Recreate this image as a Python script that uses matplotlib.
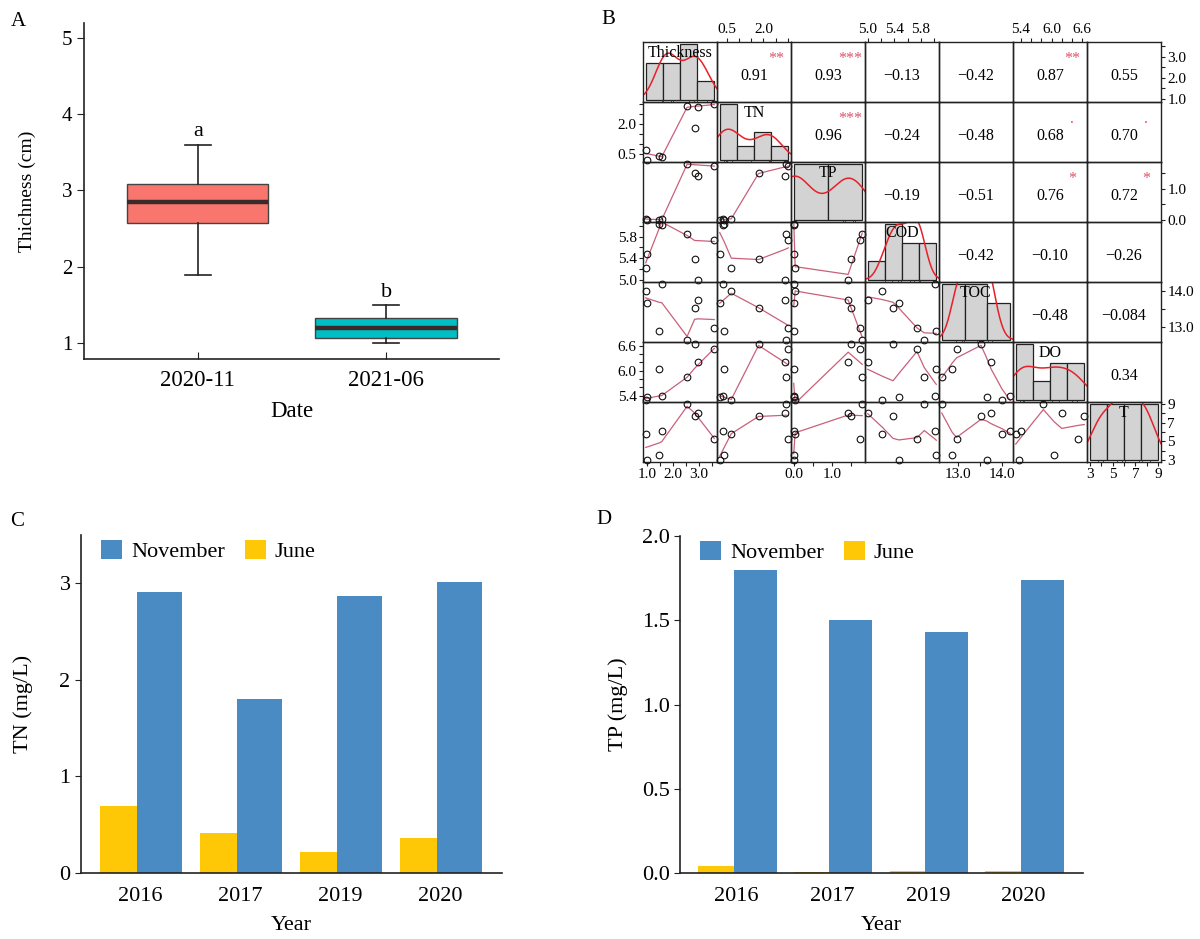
import numpy as np
import matplotlib
matplotlib.use("Agg")
import matplotlib.pyplot as plt

plt.rcParams["font.family"] = ["Liberation Serif", "DejaVu Serif"]
plt.rcParams["axes.unicode_minus"] = True

# ---- panel A: thickness box statistics
DATES = ["2020-11", "2021-06"]
BOX_WHISLO = [1.90, 1.00]
BOX_Q1 = [2.58, 1.07]
BOX_MED = [2.85, 1.20]
BOX_Q3 = [3.08, 1.33]
BOX_WHISHI = [3.60, 1.50]
BOX_LETTERS = ["a", "b"]

# ---- panels C and D
YEARS = ["2016", "2017", "2019", "2020"]
TN_NOV = [2.91, 1.80, 2.87, 3.01]
TN_JUN = [0.69, 0.41, 0.22, 0.36]
TP_NOV = [1.80, 1.50, 1.43, 1.74]
TP_JUN = [0.04, 0.003, 0.01, 0.012]

# ---- panel B: samples Nov 2016/2017/2019/2020 then Jun 2016/2017/2019/2020
VAR_NAMES = ["Thickness", "TN", "TP", "COD", "TOC", "DO", "T"]
THICKNESS = [2.55, 2.84, 2.98, 3.60, 0.95, 1.48, 1.00, 1.57]
TN = TN_NOV + TN_JUN
TP = TP_NOV + TP_JUN
COD = [5.85, 5.38, 5.00, 5.74, 5.22, 6.03, 5.47, 6.01]
TOC = [12.63, 13.53, 13.76, 12.97, 14.01, 12.87, 13.66, 14.20]
DO = [5.84, 6.64, 6.20, 6.52, 5.30, 6.05, 5.37, 5.40]
TEMP = [9.0, 7.7, 8.1, 5.2, 5.8, 3.5, 3.0, 6.1]
PAIRS_DATA = [THICKNESS, TN, TP, COD, TOC, DO, TEMP]

HIST_BREAKS = [
    [0, 1, 2, 3, 4],
    [0, 1, 2, 3, 4],
    [0, 1, 2],
    [4.5, 5.0, 5.5, 6.0, 6.5],
    [12, 13, 14, 15],
    [5.2, 5.6, 6.0, 6.4, 6.8],
    [2, 4, 6, 8, 10],
]

CORR_VALUES = [
    ["0.91", "0.93", "\u22120.13", "\u22120.42", "0.87", "0.55"],
    ["0.96", "\u22120.24", "\u22120.48", "0.68", "0.70"],
    ["\u22120.19", "\u22120.51", "0.76", "0.72"],
    ["\u22120.42", "\u22120.10", "\u22120.26"],
    ["\u22120.48", "\u22120.084"],
    ["0.34"],
]
CORR_STARS = [
    ["**", "***", "", "", "**", ""],
    ["***", "", "", ".", "."],
    ["", "", "*", "*"],
    ["", "", ""],
    ["", ""],
    [""],
]

AXIS_TICKS = [
    [1.0, 1.5, 2.0, 2.5, 3.0, 3.5],
    [0.5, 1.0, 1.5, 2.0, 2.5, 3.0],
    [0.0, 0.5, 1.0, 1.5],
    [5.0, 5.2, 5.4, 5.6, 5.8, 6.0],
    [13.0, 13.5, 14.0],
    [5.4, 5.6, 5.8, 6.0, 6.2, 6.4, 6.6],
    [3, 4, 5, 6, 7, 8, 9],
]
AXIS_LABELS = [
    ["1.0", "", "2.0", "", "3.0", ""],
    ["0.5", "", "", "2.0", "", ""],
    ["0.0", "", "1.0", ""],
    ["5.0", "", "5.4", "", "5.8", ""],
    ["13.0", "", "14.0"],
    ["5.4", "", "", "6.0", "", "", "6.6"],
    ["3", "", "5", "", "7", "", "9"],
]

FIG_W, FIG_H = 1200, 939
BOX_COLORS = ["#f8766d", "#00bfc4"]
NOV_COLOR = "#4a8bc4"
JUN_COLOR = "#ffc807"
STAR_COLOR = "#df536b"
SMOOTH_COLOR = "#c9607a"
SPINE = "#222222"


def px_rect(left, top, right, bottom):
    return [left / FIG_W, 1 - bottom / FIG_H, (right - left) / FIG_W, (bottom - top) / FIG_H]


def padded(lo, hi, frac=0.04):
    span = hi - lo
    return lo - frac * span, hi + frac * span


def hist_counts(values, breaks):
    idx = np.searchsorted(breaks, values, side="left") - 1
    idx = np.clip(idx, 0, len(breaks) - 2)
    return np.bincount(idx, minlength=len(breaks) - 1)


def bandwidth(values):
    v = np.asarray(values, float)
    q75, q25 = np.percentile(v, [75, 25])
    lo = min(np.std(v, ddof=1), (q75 - q25) / 1.34)
    return 0.9 * lo * len(v) ** -0.2


def kde_curve(values):
    v = np.asarray(values, float)
    bw = bandwidth(v)
    grid = np.linspace(v.min() - 3 * bw, v.max() + 3 * bw, 512)
    dens = np.exp(-0.5 * ((grid[:, None] - v[None, :]) / bw) ** 2).sum(axis=1)
    return grid, dens / (len(v) * bw * np.sqrt(2 * np.pi))


def lowess(x, y, f=2 / 3, iters=3):
    order = np.argsort(x, kind="stable")
    xs = np.asarray(x, float)[order]
    ys = np.asarray(y, float)[order]
    n = len(xs)
    ns = max(min(int(f * n + 1e-7), n), 2)
    xrange_ = xs[-1] - xs[0]
    robust = np.ones(n)
    fit = np.zeros(n)
    for it in range(iters + 1):
        for i in range(n):
            d = np.abs(xs - xs[i])
            h = np.sort(d)[ns - 1]
            w = np.zeros(n)
            if h > 0:
                r = d / h
                w = np.where(r <= 0.001, 1.0, np.where(r <= 0.999, (1 - r ** 3) ** 3, 0.0))
            else:
                w[d == 0] = 1.0
            w = w * robust
            if w.sum() <= 0:
                fit[i] = ys[i]
                continue
            w = w / w.sum()
            if h > 0:
                a = np.sum(w * xs)
                c = np.sum(w * (xs - a) ** 2)
                if np.sqrt(c) > 0.001 * xrange_:
                    b = (xs[i] - a) / c
                    w = w * (b * (xs - a) + 1)
            fit[i] = np.sum(w * ys)
        if it == iters:
            break
        res = np.abs(ys - fit)
        srt = np.sort(res)
        cmad = 3 * (srt[n // 2 - 1] + srt[n // 2]) if n % 2 == 0 else 6 * srt[n // 2]
        if cmad < 1e-7 * np.mean(res):
            break
        r = res / cmad
        robust = np.where(r <= 0.001, 1.0, np.where(r <= 0.999, (1 - r ** 2) ** 2, 0.0))
    return xs, fit


fig = plt.figure(figsize=(FIG_W / 100, FIG_H / 100), dpi=100)
fig.patch.set_facecolor("white")

# ================= Panel A =================
axA = fig.add_axes(px_rect(84, 23, 499, 359))
stats = [
    dict(med=m, q1=q1, q3=q3, whislo=lo, whishi=hi, fliers=[])
    for m, q1, q3, lo, hi in zip(BOX_MED, BOX_Q1, BOX_Q3, BOX_WHISLO, BOX_WHISHI)
]
bp = axA.bxp(
    stats, positions=[1, 2], widths=0.75, patch_artist=True, showfliers=False,
    capwidths=0.14,
    boxprops=dict(edgecolor="#444444", linewidth=1.0),
    medianprops=dict(color="#3a2a2a", linewidth=3.2),
    whiskerprops=dict(color="#222222", linewidth=1.2),
    capprops=dict(color="#222222", linewidth=1.2),
)
for patch, color in zip(bp["boxes"], BOX_COLORS):
    patch.set_facecolor(color)
for pos, hi, letter in zip([1, 2], BOX_WHISHI, BOX_LETTERS):
    axA.text(pos, hi + 0.04, letter, ha="center", va="bottom", fontsize=16)
axA.set_xlim(0.395, 2.60)
axA.set_ylim(0.795, 5.19)
axA.set_yticks([1, 2, 3, 4, 5])
axA.set_xticks([1, 2])
axA.set_xticklabels(DATES)
axA.spines["top"].set_visible(False)
axA.spines["right"].set_visible(False)
for s in ("left", "bottom"):
    axA.spines[s].set_color(SPINE)
    axA.spines[s].set_linewidth(1.2)
axA.tick_params(axis="y", direction="out", length=5, labelsize=15, color=SPINE)
axA.tick_params(axis="x", direction="in", length=5, labelsize=16.5, color=SPINE, pad=8)
axA.set_ylabel("Thichness (cm)", fontsize=14)
axA.yaxis.set_label_coords(-0.115, 0.5)
axA.set_xlabel("Date", fontsize=16.5)
axA.xaxis.set_label_coords(0.5, -0.125)
fig.text(18 / FIG_W, 1 - 22 / FIG_H, "A", fontsize=15, ha="center", va="center")


# ================= Panels C and D =================
def bar_panel(rect, nov, jun, ylim, yticks, ylabel, ylabel_x):
    ax = fig.add_axes(rect)
    x = np.arange(len(YEARS))
    h_jun = ax.bar(x, jun, width=-0.37, align="edge", color=JUN_COLOR)
    h_nov = ax.bar(x, nov, width=0.45, align="edge", color=NOV_COLOR)
    ax.set_xlim(-0.56, 3.65)
    ax.set_ylim(*ylim)
    ax.set_yticks(yticks)
    ax.set_xticks(x + 0.03)
    ax.set_xticklabels(YEARS)
    ax.spines["top"].set_visible(False)
    ax.spines["right"].set_visible(False)
    for s in ("left", "bottom"):
        ax.spines[s].set_color(SPINE)
        ax.spines[s].set_linewidth(1.2)
    ax.tick_params(axis="y", direction="out", length=4, labelsize=16, color=SPINE)
    ax.tick_params(axis="x", length=0, labelsize=16, pad=10)
    ax.set_ylabel(ylabel, fontsize=16)
    ax.yaxis.set_label_coords(ylabel_x, 0.5)
    ax.set_xlabel("Year", fontsize=16)
    ax.xaxis.set_label_coords(0.5, -0.128)
    ax.legend(
        [h_nov, h_jun], ["November", "June"], loc="upper left",
        bbox_to_anchor=(0.0, 1.045), ncol=2, frameon=False, fontsize=16,
        handlelength=0.95, handleheight=0.95, handletextpad=0.4, columnspacing=0.9,
    )
    return ax


bar_panel(px_rect(81, 535, 502, 873), TN_NOV, TN_JUN, (0, 3.5), [0, 1, 2, 3],
          "TN (mg/L)", -0.115)
bar_panel(px_rect(680, 536, 1083, 873), TP_NOV, TP_JUN, (0, 2.0),
          [0.0, 0.5, 1.0, 1.5, 2.0], "TP (mg/L)", -0.13)
fig.text(17 / FIG_W, 1 - 521 / FIG_H, "C", fontsize=15, ha="center", va="center")
fig.text(604 / FIG_W, 1 - 520 / FIG_H, "D", fontsize=15, ha="center", va="center")

# ================= Panel B: correlation matrix =================
GRID_L, GRID_T, CELL_W, CELL_H = 643, 42, 74, 60
nvar = len(VAR_NAMES)
limits = [padded(min(v), max(v)) for v in PAIRS_DATA]

for r in range(nvar):
    for c in range(nvar):
        left = GRID_L + CELL_W * c
        top = GRID_T + CELL_H * r
        rect = px_rect(left, top, left + CELL_W, top + CELL_H)

        if r == c:
            axh = fig.add_axes(rect)
            breaks = np.asarray(HIST_BREAKS[r], float)
            counts = hist_counts(PAIRS_DATA[r], breaks)
            dens = counts / (len(PAIRS_DATA[r]) * np.diff(breaks))
            axh.bar(breaks[:-1], dens, width=np.diff(breaks), align="edge",
                    color="#d3d3d3", edgecolor="#222222", linewidth=0.9)
            gx, gy = kde_curve(PAIRS_DATA[r])
            axh.plot(gx, gy, color="#e8202a", linewidth=1.1)
            y0, y1 = padded(0, dens.max())
            axh.vlines(PAIRS_DATA[r], y0, y0 + 0.03 * (y1 - y0), color="#333333", linewidth=0.6)
            axh.set_xlim(*padded(breaks[0], breaks[-1]))
            axh.set_ylim(y0, y1)
            axh.axis("off")
            axh.text(0.5, 0.82, VAR_NAMES[r], transform=axh.transAxes,
                     ha="center", va="center", fontsize=11.5)

        ax = fig.add_axes(rect)
        ax.set_facecolor("none")
        ax.set_xlim(*limits[c])
        ax.set_ylim(*limits[r])
        ax.set_xticks([])
        ax.set_yticks([])
        for s in ax.spines.values():
            s.set_color("#222222")
            s.set_linewidth(1.0)

        if r > c:
            sx, sy = lowess(PAIRS_DATA[c], PAIRS_DATA[r])
            ax.plot(sx, sy, color=SMOOTH_COLOR, linewidth=0.9)
            ax.plot(PAIRS_DATA[c], PAIRS_DATA[r], "o", mfc="none", mec="#111111",
                    ms=4.8, mew=0.8, clip_on=False, zorder=3)
        elif r < c:
            ax.text(0.5, 0.43, CORR_VALUES[r][c - r - 1], transform=ax.transAxes,
                    ha="center", va="center", fontsize=11.5)
            stars = CORR_STARS[r][c - r - 1]
            if stars:
                ax.text(0.8, 0.72, stars, transform=ax.transAxes, ha="center",
                        va="center", fontsize=11.5, color=STAR_COLOR)

        tick_kw = dict(direction="out", length=3, width=0.8, labelsize=11,
                       pad=1.5, color="#222222")
        if r == 0 and c % 2 == 1:
            ax.set_xticks(AXIS_TICKS[c])
            ax.set_xticklabels(AXIS_LABELS[c])
            ax.xaxis.tick_top()
            ax.tick_params(axis="x", **tick_kw)
        if r == nvar - 1 and c % 2 == 0:
            ax.set_xticks(AXIS_TICKS[c])
            ax.set_xticklabels(AXIS_LABELS[c])
            ax.tick_params(axis="x", **tick_kw)
        if c == 0 and r % 2 == 1:
            ax.set_yticks(AXIS_TICKS[r])
            ax.set_yticklabels(AXIS_LABELS[r])
            ax.tick_params(axis="y", **tick_kw)
        if c == nvar - 1 and r % 2 == 0:
            ax.set_yticks(AXIS_TICKS[r])
            ax.set_yticklabels(AXIS_LABELS[r])
            ax.yaxis.tick_right()
            ax.tick_params(axis="y", **tick_kw)

fig.text(608 / FIG_W, 1 - 20 / FIG_H, "B", fontsize=15, ha="center", va="center")

fig.savefig("out.png", dpi=100)
